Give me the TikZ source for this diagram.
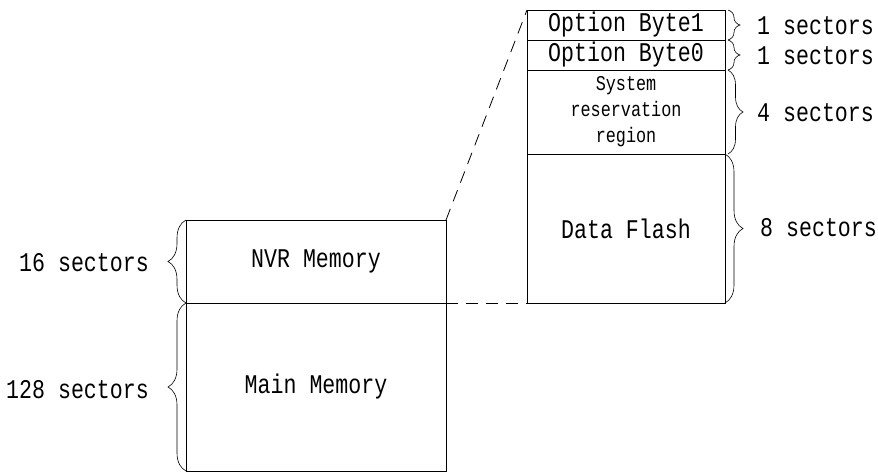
\documentclass[tikz,border=0pt]{standalone}
\usepackage{fontspec}
\setmainfont{Liberation Mono}[FakeStretch=0.8]
\usetikzlibrary{decorations.pathreplacing}

\begin{document}
\begin{tikzpicture}[x=1pt,y=-1pt,
  cell/.style={draw, line width=0.9pt, anchor=north west, inner sep=0pt,
    outer sep=0pt, align=center, font=\fontsize{27}{26}\selectfont},
  lab/.style={inner sep=0pt, font=\fontsize{27}{26}\selectfont},
  brc/.style={decorate, decoration={brace, amplitude=#1}, line width=0.6pt},
  brc/.default=14pt,
  zoomline/.style={dashed, dash pattern=on 12pt off 8pt, line width=0.8pt}]
\useasboundingbox (0,0) rectangle (878,474);

% flash memory map
\node[cell, minimum width=260pt, minimum height=83pt]  (nvr)  at (186,220) {NVR Memory};
\node[cell, minimum width=260pt, minimum height=168pt] (main) at (186,303) {Main Memory};

% NVR region detail
\node[cell, minimum width=198pt, minimum height=30pt]  (ob1) at (527,10)  {Option Byte1};
\node[cell, minimum width=198pt, minimum height=30pt]  (ob0) at (527,40)  {Option Byte0};
\node[cell, minimum width=198pt, minimum height=84pt, font=\fontsize{21}{26}\selectfont]
                                                      (sys) at (527,70)  {System\\reservation\\region};
\node[cell, minimum width=198pt, minimum height=149pt] (df)  at (527,154) {Data Flash};

% zoom guides
\draw[zoomline] (nvr.north east) -- (ob1.north west);
\draw[zoomline] (nvr.south east) -- (df.south west);

% sector counts, right side
\draw[brc=12pt] ([xshift=3pt]ob1.north east) -- ([xshift=3pt]ob1.south east);
\draw[brc=12pt] ([xshift=3pt]ob0.north east) -- ([xshift=3pt]ob0.south east);
\draw[brc=15pt] ([xshift=3pt]sys.north east) -- ([xshift=3pt]sys.south east);
\draw[brc=18pt] (df.north east) -- (df.south east);
\node[lab, anchor=west] (l1) at (757,26)  {1 sectors};
\node[lab, anchor=west] (l0) at (757,56)  {1 sectors};
\node[lab, anchor=west] (l4) at (757,113) {4 sectors};
\node[lab, anchor=west] (l8) at (760,228) {8 sectors};

% sector counts, left side
\draw[brc=18pt] (nvr.south west) -- (nvr.north west);
\draw[brc=18pt] (main.south west) -- (main.north west);
\node[lab, anchor=east] (l16)  at (149,263) {16 sectors};
\node[lab, anchor=east] (l128) at (149,390) {128 sectors};
\end{tikzpicture}
\end{document}
